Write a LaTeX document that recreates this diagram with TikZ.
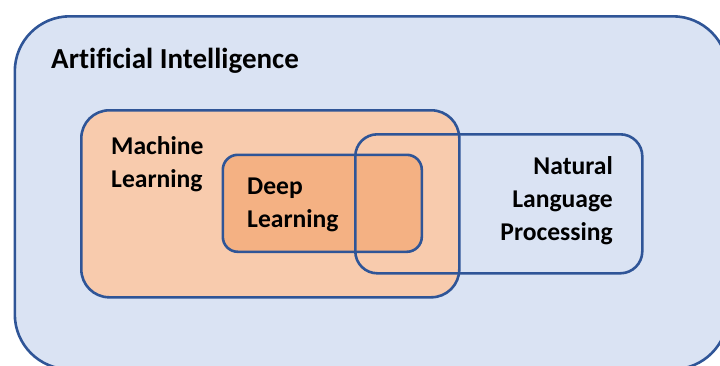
\documentclass[tikz,border=0pt]{standalone}
\usepackage{fontspec}
\setmainfont[Ligatures=NoCommon]{Carlito}
\definecolor{aiblue}{HTML}{DAE3F3}
\definecolor{edgeblue}{HTML}{2F5597}
\definecolor{mlfill}{HTML}{F8CBAD}
\definecolor{dlfill}{HTML}{F4B183}
\begin{document}
\begin{tikzpicture}[x=1pt,y=-1pt,
  region/.style={draw=edgeblue,line width=2.6pt},
  lbl/.style={font=\fontsize{25.6}{33}\selectfont\bfseries,inner sep=0pt,align=left},
  lblr/.style={font=\fontsize{25.6}{33}\selectfont\bfseries,inner sep=0pt,align=right}]
\useasboundingbox (0,0) rectangle (720,365);
\node[region,fill=aiblue,rounded corners=55pt,minimum width=713pt,minimum height=353pt,anchor=north west,inner sep=0pt] (ai) at (13.5,15) {};
\node[region,fill=mlfill,rounded corners=28pt,minimum width=378pt,minimum height=187pt,anchor=north west,inner sep=0pt] (ml) at (80,109) {};
\node[region,fill=dlfill,rounded corners=15pt,minimum width=199pt,minimum height=97pt,anchor=north west,inner sep=0pt] (dl) at (221.5,153.5) {};
\node[region,rounded corners=22pt,minimum width=287pt,minimum height=139pt,anchor=north west,inner sep=0pt] (nlp) at (354,133) {};
\node[font=\fontsize{29}{30}\selectfont\bfseries,inner sep=0pt,anchor=base west] (ait) at (51,68) {Artificial Intelligence};
\node[lbl,anchor=base west] (mlt) at (111,187) {Machine\\Learning};
\node[lbl,anchor=base west] (dlt) at (247,227) {Deep\\Learning};
\node[lblr,anchor=base east] (nlpt) at (613,240) {Natural\\Language\\Processing};
\end{tikzpicture}
\end{document}
